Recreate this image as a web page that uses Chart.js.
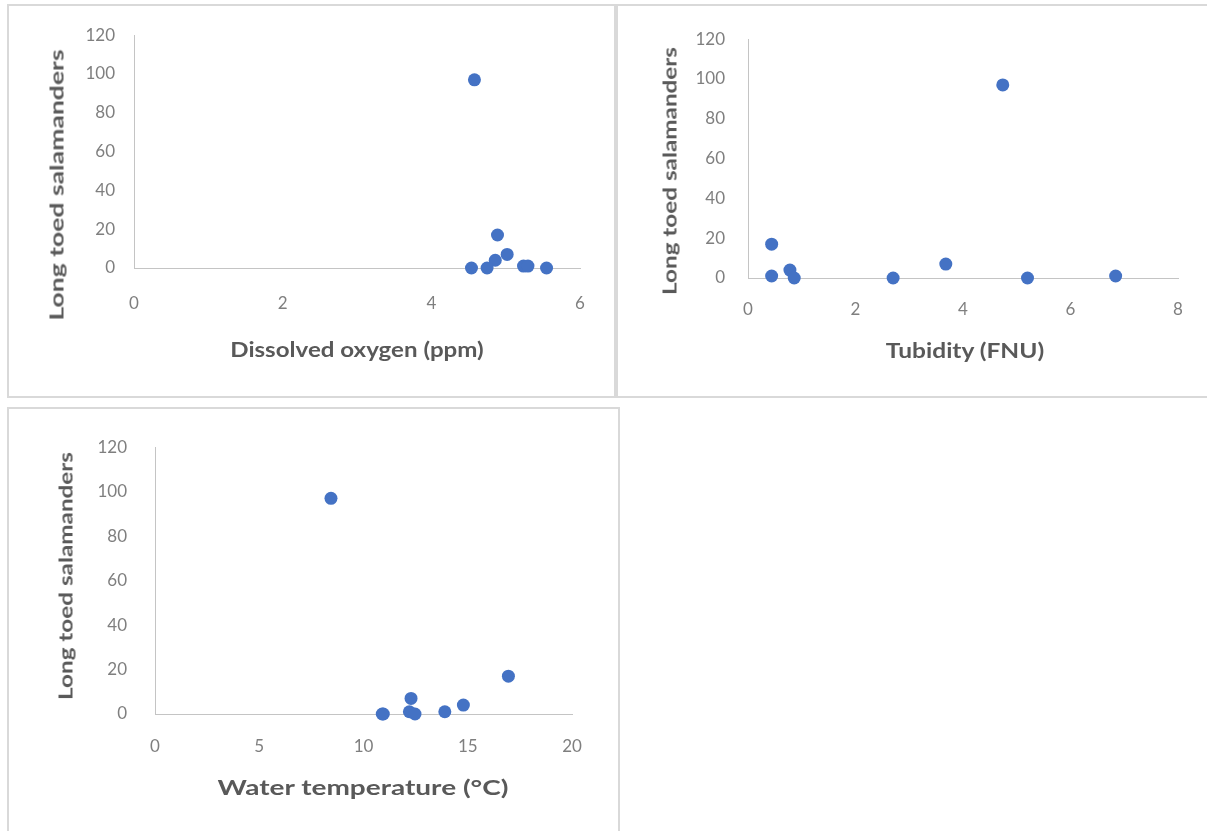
<!DOCTYPE html>
<html>
<head>
<meta charset="utf-8">
<script src="https://cdn.jsdelivr.net/npm/chart.js@4.4.0/dist/chart.umd.min.js"></script>
<style>
html,body{margin:0;padding:0;background:#fff;}
body{width:1207px;height:831px;overflow:hidden;position:relative;font-family:Lato,"Open Sans",sans-serif;}
.panel{position:absolute;border:2px solid #d9d9d9;box-sizing:border-box;background:#fff;}
canvas{position:absolute;}
.ttl{position:absolute;white-space:nowrap;font-family:Lato,"Open Sans",sans-serif;font-weight:700;color:#595959;line-height:1;transform-origin:50% 50%;}
</style>
</head>
<body>
<script>
// ---- data ----
const salamanders     = [97, 17, 7, 4, 1, 1, 0, 0, 0];
const dissolvedOxygen = [4.58, 4.89, 5.02, 4.86, 5.24, 5.30, 4.54, 4.75, 5.55];
const turbidity       = [4.74, 0.44, 3.68, 0.78, 0.44, 6.84, 0.86, 2.70, 5.20];
const waterTemp       = [8.44, 16.95, 12.28, 14.79, 12.20, 13.90, 10.95, 12.47, 10.90];

const yTicks    = [0, 20, 40, 60, 80, 100, 120];
const doTicks   = [0, 2, 4, 6];
const turbTicks = [0, 2, 4, 6, 8];
const tempTicks = [0, 5, 10, 15, 20];

const yTitleText = 'Long toed salamanders';
const xTitleTexts = ['Dissolved oxygen (ppm)', 'Tubidity (FNU)', 'Water temperature (°C)'];

// ---- layout (page pixels) ----
const panels = [
  {box:[7,4,609,394], cv:[9,6,605,390], area:[134,35,580,268], xs:dissolvedOxygen, xt:doTicks,
   yPad:19, xPad:25, xTitle:[357,349,253], yTitle:[56,184.5,271]},
  {box:[616,4,600,394], cv:[618,6,589,390], area:[748,33,1178,278], xs:turbidity, xt:turbTicks,
   yPad:23, xPad:21, xTitle:[965,350,158], yTitle:[668.5,171,248]},
  {box:[7,407,613,430], cv:[9,409,609,422], area:[155,436,572,714], xs:waterTemp, xt:tempTicks,
   yPad:28, xPad:22, xTitle:[362.5,786.7,291], yTitle:[65,576,248]}
];

const tickFont = {family:'Lato', size:17};
const tickColor = '#7f7f7f';
const axisColor = '#c4c4c4';
const pointColor = '#4472C4';

panels.forEach((p, idx) => {
  const box = document.createElement('div');
  box.className = 'panel';
  Object.assign(box.style, {left:p.box[0]+'px', top:p.box[1]+'px', width:p.box[2]+'px', height:p.box[3]+'px'});
  document.body.appendChild(box);

  const [cx, cy, cw, ch] = p.cv;
  const [L, T, R, B] = p.area;
  const c = document.createElement('canvas');
  c.width = cw; c.height = ch;
  Object.assign(c.style, {left:cx+'px', top:cy+'px', width:cw+'px', height:ch+'px'});
  document.body.appendChild(c);

  new Chart(c.getContext('2d'), {
    type: 'scatter',
    data: {
      datasets: [{
        data: p.xs.map((x, i) => ({x: x, y: salamanders[i]})),
        backgroundColor: pointColor,
        borderColor: pointColor,
        borderWidth: 0,
        pointRadius: 6.5,
        pointHoverRadius: 6.5,
        clip: false
      }]
    },
    options: {
      responsive: false,
      animation: false,
      devicePixelRatio: 1,
      events: [],
      layout: {autoPadding: false, padding: {left: 0, top: T - cy, right: cx + cw - R, bottom: 0}},
      plugins: {legend: {display: false}, tooltip: {enabled: false}},
      scales: {
        x: {
          type: 'linear', position: 'bottom',
          min: p.xt[0], max: p.xt[p.xt.length - 1],
          afterBuildTicks: s => { s.ticks = p.xt.map(v => ({value: v})); },
          afterFit: s => { s.height = cy + ch - B; },
          grid: {display: false, drawTicks: false},
          border: {display: true, color: axisColor, width: 1},
          ticks: {padding: p.xPad, color: tickColor, font: tickFont, maxRotation: 0}
        },
        y: {
          type: 'linear', position: 'left',
          min: yTicks[0], max: yTicks[yTicks.length - 1],
          afterBuildTicks: s => { s.ticks = yTicks.map(v => ({value: v})); },
          afterFit: s => { s.width = L - cx; },
          grid: {display: false, drawTicks: false},
          border: {display: true, color: axisColor, width: 1},
          ticks: {padding: p.yPad, color: tickColor, font: tickFont}
        }
      }
    }
  });

  // axis titles as real text
  const xt = document.createElement('div');
  xt.className = 'ttl';
  xt.textContent = xTitleTexts[idx];
  xt.style.fontSize = '20px';
  document.body.appendChild(xt);
  const xs = p.xTitle[2] / xt.offsetWidth;
  Object.assign(xt.style, {left: p.xTitle[0]+'px', top: p.xTitle[1]+'px',
    transform: 'translate(-50%,-50%) scaleX(' + xs.toFixed(3) + ')'});

  const yt = document.createElement('div');
  yt.className = 'ttl';
  yt.textContent = yTitleText;
  yt.style.fontSize = '19px';
  document.body.appendChild(yt);
  const ys = p.yTitle[2] / yt.offsetWidth;
  Object.assign(yt.style, {left: p.yTitle[0]+'px', top: p.yTitle[1]+'px',
    transform: 'translate(-50%,-50%) rotate(-90deg) scaleX(' + ys.toFixed(3) + ')'});
});
</script>
</body>
</html>
